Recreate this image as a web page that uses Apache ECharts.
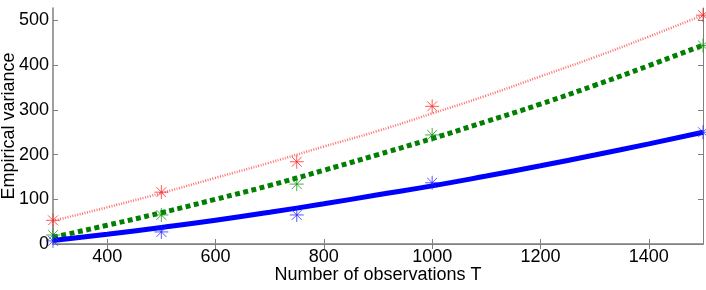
<!DOCTYPE html>
<html><head><meta charset="utf-8">
<script src="https://cdn.jsdelivr.net/npm/echarts@6/dist/echarts.min.js"></script>
<style>html,body{margin:0;padding:0;background:#fff}#c{width:706px;height:290px}</style>
</head><body><div id="c"></div>
<script>
const T_points = [300, 500, 750, 1000, 1500];
const redPoints = [53, 116, 184, 308, 512];
const greenPoints = [20, 65, 134, 244, 444];
const bluePoints = [7, 27, 65, 137, 250];

const T_line = [300, 400, 500, 600, 700, 800, 900, 1000, 1100, 1200, 1300, 1400, 1500];
const redLine = [52, 82, 114, 148, 182, 218, 253, 292, 332, 375, 418, 464, 512];
const greenLine = [15, 42, 70, 100, 131, 165, 200, 236, 274, 313, 355, 399, 445];
const blueLine = [8, 22, 37, 53, 71, 90, 110, 130, 152, 175, 199, 224, 250];

const xTicks = [400, 600, 800, 1000, 1200, 1400];
const yTicks = [0, 100, 200, 300, 400, 500];

const zip = (xs, ys) => xs.map((x, i) => [x, ys[i]]);
const star = 'path://M0,-10L0,10M-10,0L10,0M-7.07,-7.07L7.07,7.07M-7.07,7.07L7.07,-7.07';
const frame = '#808080';
const font = 'Liberation Sans, Arial, sans-serif';
const txt = '#000';

const chart = echarts.init(document.getElementById('c'), null, {renderer: 'canvas'});
const mk = (name, color, data) => ({
  type: 'scatter', name, data, symbol: star, symbolSize: 14, z: 5,
  itemStyle: {color: 'none', borderColor: color, borderWidth: 1, opacity: 0.75}
});
chart.setOption({
  animation: false,
  grid: {left: 53, right: 3, top: 8, bottom: 46, containLabel: false, outerBoundsMode: 'none'},
  xAxis: [{
    type: 'value', min: 300, max: 1500, position: 'bottom',
    name: 'Number of observations T', nameLocation: 'middle', nameGap: 22, nameMoveOverlap: false,
    nameTextStyle: {fontFamily: font, fontSize: 18, color: txt},
    axisLine: {show: true, lineStyle: {color: frame, width: 1.5}},
    axisTick: {show: true, inside: true, length: 5, customValues: xTicks, lineStyle: {color: frame}},
    axisLabel: {customValues: xTicks, formatter: v => String(v), fontFamily: font, fontSize: 18, color: txt, margin: 4},
    splitLine: {show: false}
  }, {
    type: 'value', min: 300, max: 1500, position: 'top',
    axisLine: {show: true, lineStyle: {color: frame, width: 1}},
    axisTick: {show: true, inside: true, length: 5, customValues: xTicks, lineStyle: {color: frame}},
    axisLabel: {show: false}, splitLine: {show: false}
  }],
  yAxis: [{
    type: 'value', min: 0, max: 528, position: 'left',
    name: 'Empirical variance', nameLocation: 'middle', nameGap: 35, nameMoveOverlap: false,
    nameTextStyle: {fontFamily: font, fontSize: 18, color: txt},
    axisLine: {show: true, lineStyle: {color: frame, width: 1.5}},
    axisTick: {show: true, inside: true, length: 5, customValues: yTicks, lineStyle: {color: frame}},
    axisLabel: {customValues: yTicks, formatter: v => String(v), fontFamily: font, fontSize: 18, color: txt, margin: 4},
    splitLine: {show: false}
  }, {
    type: 'value', min: 0, max: 528, position: 'right',
    axisLine: {show: true, lineStyle: {color: frame, width: 1}},
    axisTick: {show: true, inside: true, length: 5, customValues: yTicks, lineStyle: {color: frame}},
    axisLabel: {show: false}, splitLine: {show: false}
  }],
  series: [
    {type: 'line', data: zip(T_line, redLine), smooth: true, showSymbol: false, z: 3,
     lineStyle: {color: '#ff3030', width: 2.5, type: [1, 1.5], opacity: 0.7}},
    {type: 'line', data: zip(T_line, greenLine), smooth: true, showSymbol: false, z: 3,
     lineStyle: {color: '#007f00', width: 5, type: [5, 3.5], cap: 'butt'}},
    {type: 'line', data: zip(T_line, blueLine), smooth: true, showSymbol: false, z: 3,
     lineStyle: {color: '#0000ff', width: 5}},
    mk('r', '#ff2020', zip(T_points, redPoints)),
    mk('g', '#109010', zip(T_points, greenPoints)),
    mk('b', '#2020ff', zip(T_points, bluePoints))
  ]
});
</script></body></html>
